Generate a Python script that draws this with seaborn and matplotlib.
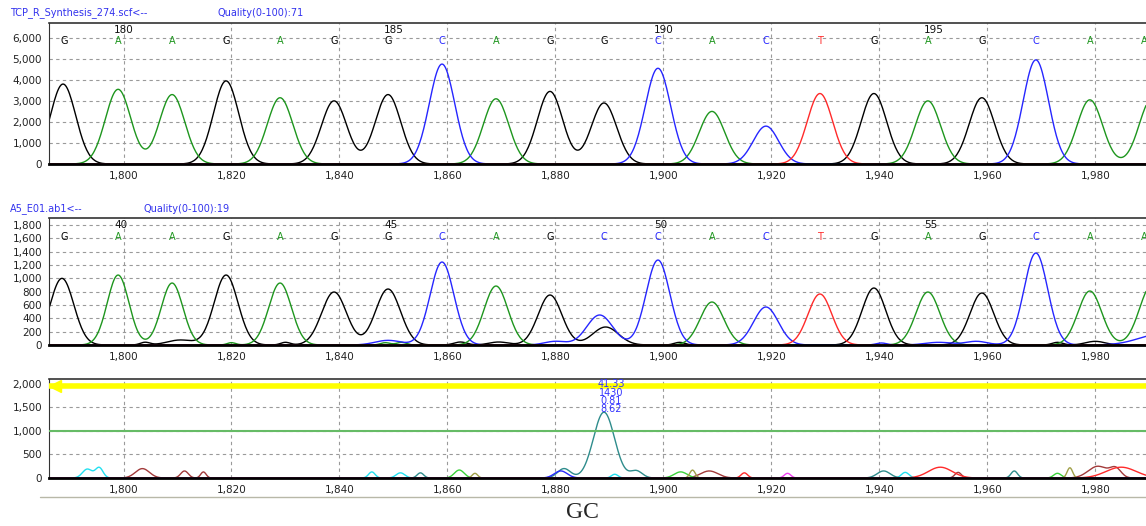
import numpy as np
import pandas as pd
import matplotlib
matplotlib.use("Agg")
import matplotlib.pyplot as plt
import seaborn as sns
from matplotlib.lines import Line2D
from matplotlib.ticker import FuncFormatter

# scan axis the traces are sampled on
scans = np.arange(1782, 1996.01, 0.2)

# ---- top trace: TCP_R_Synthesis_274.scf ----
top_calls = list("GAAGAGGCAGGCACTGAGCAA")
top_call_pos = [1789, 1799, 1809, 1819, 1829, 1839, 1849, 1859, 1869, 1879, 1889,
                1899, 1909, 1919, 1929, 1939, 1949, 1959, 1969, 1979, 1989]
top_peak_pos = [1788.8, 1799, 1809, 1819, 1829, 1839, 1849, 1859, 1869, 1879, 1889,
                1899, 1909, 1919, 1929, 1939, 1949, 1959, 1969, 1979, 1990.5]
top_peak_height = [3800, 3550, 3300, 3950, 3150, 3000, 3300, 4750, 3100, 3450, 2900,
                   4550, 2500, 1800, 3350, 3350, 3000, 3150, 4950, 3050, 3100]
top_numbers = ["180", "185", "190", "195"]
top_number_pos = [1800, 1850, 1900, 1950]

# ---- middle trace: A5_E01.ab1 ----
mid_calls = list("GAAGAGGCAGCCACTGAGCAA")
mid_call_pos = top_call_pos
mid_peak_base = list("GAAGAGGCAGCGCACTGAGCAA")
mid_peak_pos = [1788.6, 1799, 1809, 1819, 1829, 1839, 1849, 1859, 1869, 1879, 1888.2,
                1889.3, 1899, 1909, 1919, 1929, 1939, 1949, 1959, 1969, 1979, 1990.5]
mid_peak_height = [1000, 1050, 930, 1050, 930, 795, 840, 1245, 885, 750, 450,
                   270, 1275, 645, 570, 765, 855, 795, 780, 1380, 810, 900]
mid_peak_sigma = [2.2, 2.0, 2.0, 2.2, 2.1, 2.3, 2.3, 2.2, 2.2, 2.2, 2.4,
                  2.4, 2.2, 2.2, 2.3, 2.2, 2.2, 2.2, 2.2, 2.2, 2.2, 2.3]
# small background bumps in the middle trace
mid_bump_base = list("GGGGGGGGAAACCCCCC")
mid_bump_pos = [1804, 1810.5, 1830, 1862.4, 1869.5, 1903, 1973, 1980,
                1820, 1848.5, 1851.5, 1849, 1880, 1940.4, 1951, 1958, 1992]
mid_bump_height = [40, 75, 40, 45, 45, 40, 40, 55,
                   35, 35, 40, 70, 55, 30, 40, 55, 160]
mid_bump_sigma = [0.9, 2.4, 0.9, 1.2, 1.8, 1.0, 1.0, 1.8,
                  0.8, 0.9, 0.9, 2.4, 2.0, 1.0, 2.5, 2.0, 4.0]
mid_numbers = ["40", "45", "50", "55"]
mid_number_pos = [1799.5, 1849.5, 1899.5, 1949.5]

# ---- bottom trace: difference peaks ----
diff_group = (["cyan"] * 6 + ["brown"] * 7 + ["teal"] * 6 + ["lime"] * 3 +
              ["olive"] * 3 + ["blue"] + ["red"] * 3 + ["magenta"])
diff_pos = [1793.3, 1795.5, 1846, 1851.3, 1891, 1944.8,
            1803.5, 1811.3, 1814.8, 1908.5, 1954.6, 1980.5, 1983.8,
            1889, 1881.6, 1895, 1855, 1940.8, 1965,
            1862.2, 1903.2, 1973,
            1865.1, 1905.4, 1975.3,
            1881,
            1915, 1951.3, 1984.8,
            1923]
diff_height = [190, 220, 130, 110, 80, 120,
               200, 150, 130, 150, 120, 250, 190,
               1400, 200, 150, 110, 150, 150,
               170, 130, 100,
               100, 170, 220,
               150,
               110, 230, 230,
               100]
diff_sigma = [0.9, 0.7, 0.6, 0.8, 0.6, 0.7,
              1.3, 0.7, 0.5, 1.6, 0.6, 1.8, 1.0,
              1.95, 1.2, 1.1, 0.6, 1.2, 0.6,
              0.9, 1.2, 0.7,
              0.5, 0.5, 0.5,
              1.2,
              0.6, 2.2, 2.8,
              0.6]
peak_note = ["41.33", "1430", "0.81", "8.62"]
peak_note_y = [2000, 1809, 1638, 1468]
upper_threshold = 1960
lower_threshold = 1010

base_colors = {"G": "#000000", "A": "#1e961e", "C": "#2626ff", "T": "#ff2a2a"}
diff_colors = {"cyan": "#22e0f0", "brown": "#a23a3a", "teal": "#2e8c8c", "lime": "#3ad23a",
               "olive": "#a0a048", "blue": "#2a2aff", "red": "#ff2a2a", "magenta": "#f040f0"}


def build(bases, pos, height, sigma):
    rows = []
    for key in dict.fromkeys(bases):
        sig = np.zeros_like(scans)
        for b, p, h, s in zip(bases, pos, height, sigma):
            if b == key:
                sig += h * np.exp(-(scans - p) ** 2 / (2 * s * s))
        rows.append(pd.DataFrame({"scan": scans, "signal": sig, "base": key}))
    return pd.concat(rows, ignore_index=True)


top_df = build(top_calls, top_peak_pos, top_peak_height, [2.35] * len(top_peak_pos))
mid_df = build(mid_peak_base + mid_bump_base, mid_peak_pos + mid_bump_pos,
               mid_peak_height + mid_bump_height, mid_peak_sigma + mid_bump_sigma)
diff_df = build(diff_group, diff_pos, diff_height, diff_sigma)

sns.set_style("white")
plt.rcParams["font.family"] = ["DejaVu Sans"]

W, H = 1146, 526
fig = plt.figure(figsize=(W / 100, H / 100), dpi=100)


def px_axes(top, bottom, left=49, right=1146):
    return fig.add_axes([left / W, 1 - bottom / H, (right - left) / W, (bottom - top) / H])


ax1 = px_axes(23, 164)
ax2 = px_axes(218, 345)
ax3 = px_axes(379, 478)

xmin, xmax = 1786.2, 1989.4
fmt = FuncFormatter(lambda v, p: f"{int(v):,}")

for ax, df, pal in [(ax1, top_df, base_colors), (ax2, mid_df, base_colors), (ax3, diff_df, diff_colors)]:
    sns.lineplot(data=df, x="scan", y="signal", hue="base", palette=pal, estimator=None,
                 legend=False, linewidth=1.0, ax=ax)
    ax.set_xlim(xmin, xmax)
    ax.set_xticks(np.arange(1800, 1990, 20))
    ax.xaxis.set_major_formatter(fmt)
    ax.yaxis.set_major_formatter(fmt)
    ax.set_xlabel("")
    ax.set_ylabel("")
    ax.grid(True, ls=(0, (3, 3)), color="#9a9a9a", lw=0.8)
    ax.tick_params(labelsize=7.5, length=3, width=0.8, pad=2, colors="#222222")
    ax.spines["right"].set_visible(False)
    ax.spines["top"].set_color("#333333")
    ax.spines["top"].set_linewidth(1.2)
    ax.spines["left"].set_color("#333333")
    ax.spines["bottom"].set_color("#000000")
    ax.spines["bottom"].set_linewidth(2)
    ax.spines["bottom"].set_zorder(5)

ax1.set_ylim(0, 6700)
ax1.set_yticks(np.arange(0, 6001, 1000))
ax2.set_ylim(0, 1905)
ax2.set_yticks(np.arange(0, 1801, 200))
ax3.set_ylim(0, 2106)
ax3.set_yticks(np.arange(0, 2001, 500))

# base calls and position numbers
for ax, calls, cpos, nums, npos, ly, ny in [
        (ax1, top_calls, top_call_pos, top_numbers, top_number_pos, 5857, 6381),
        (ax2, mid_calls, mid_call_pos, mid_numbers, mid_number_pos, 1620, 1800)]:
    for b, p in zip(calls, cpos):
        ax.text(p, ly, b, color=base_colors[b], fontsize=7, ha="center", va="center")
    for n, p in zip(nums, npos):
        ax.text(p, ny, n, color="#111111", fontsize=7.5, ha="center", va="center")

# thresholds and peak notes on the bottom panel
ax3.axhline(upper_threshold, color="#ffff00", lw=4, zorder=4)
ax3.plot([xmin + 1.1], [upper_threshold], marker="<", ms=9, color="#ffff00",
         clip_on=False, zorder=6)
ax3.axhline(lower_threshold, color="#66bb66", lw=1.5, zorder=3)
for t, y in zip(peak_note, peak_note_y):
    ax3.text(1890.3, y, t, color="#3333ff", fontsize=7, ha="center", va="center", zorder=7)

# panel titles
fig.text(10 / W, 1 - 13 / H, "TCP_R_Synthesis_274.scf<--", color="#3333ee", fontsize=7, va="center")
fig.text(217 / W, 1 - 13 / H, "Quality(0-100):71", color="#3333ee", fontsize=7, va="center")
fig.text(10 / W, 1 - 209 / H, "A5_E01.ab1<--", color="#3333ee", fontsize=7, va="center")
fig.text(143 / W, 1 - 209 / H, "Quality(0-100):19", color="#3333ee", fontsize=7, va="center")

fig.add_artist(Line2D([40 / W, 1], [1 - 497 / H] * 2, color="#b8b8a8", lw=1))
fig.text(582 / W, 1 - 513 / H, "GC", family="Liberation Serif", fontsize=17,
         ha="center", va="center")

fig.savefig("out.png", dpi=100)
